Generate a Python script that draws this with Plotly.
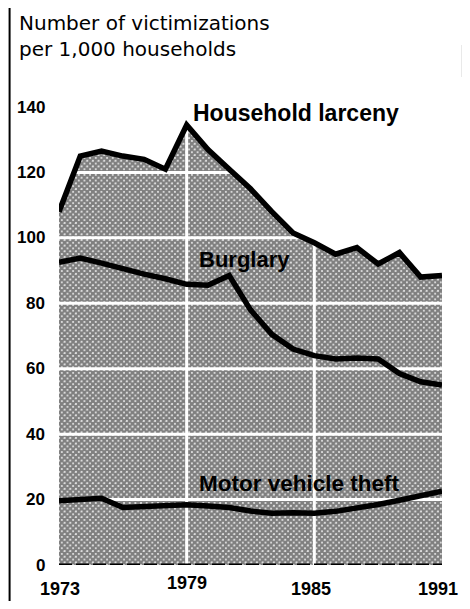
import plotly.graph_objects as go

years = list(range(1973, 1992))
household_larceny = [108, 125, 126.5, 125, 124, 121, 134.5, 127, 121, 115, 108, 101.5, 98.5, 95, 97, 92, 95.5, 88, 88.5]
burglary = [92.5, 93.8, 92.3, 90.4, 88.9, 87.5, 85.8, 85.5, 88.5, 78, 70.5, 66, 64, 63, 63.3, 63, 58.5, 56, 55]
motor_vehicle_theft = [19.6, 19.8, 20.4, 17.6, 18, 18.4, 18.4, 18, 17.6, 16.5, 15.8, 16, 15.8, 16.4, 17.3, 18.5, 19.8, 21.2, 22.6]

y_ticks = [0, 20, 40, 60, 80, 100, 120, 140]
x_ticks = [1973, 1979, 1985, 1991]
h_grid = [20, 40, 60, 80, 100, 120]
v_grid = [1979, 1985]

FONT = "Liberation Sans, Arial, sans-serif"

fig = go.Figure()

# shaded halftone area under household larceny
fig.add_trace(go.Scatter(
    x=years, y=household_larceny, mode="lines", line=dict(width=0, color="black"),
    fill="tozeroy", fillcolor="#5a5a5a",
    fillpattern=dict(shape="x", fgcolor="#000000", bgcolor="#ffffff", size=4, solidity=0.85),
    hoverinfo="skip", showlegend=False))

# white gridlines drawn over the fill but under the data lines
for v in h_grid:
    fig.add_trace(go.Scatter(x=[years[0], years[-1]], y=[v, v], mode="lines",
                             line=dict(color="white", width=3), hoverinfo="skip", showlegend=False))
for v in v_grid:
    fig.add_trace(go.Scatter(x=[v, v], y=[0, 140], mode="lines",
                             line=dict(color="white", width=3), hoverinfo="skip", showlegend=False))

# dashed baseline
fig.add_trace(go.Scatter(x=[years[0], years[-1]], y=[0, 0], mode="lines",
                         line=dict(color="black", width=3, dash="13px,4px"),
                         hoverinfo="skip", showlegend=False))

for series in (household_larceny, burglary, motor_vehicle_theft):
    fig.add_trace(go.Scatter(x=years, y=series, mode="lines",
                             line=dict(color="black", width=5.5, shape="linear"),
                             hoverinfo="skip", showlegend=False))

annotations = [
    dict(text="Household larceny", x=1979.2, y=138.2, size=23),
    dict(text="Burglary", x=1979.5, y=93.5, size=22),
    dict(text="Motor vehicle theft", x=1979.5, y=24.8, size=22.5),
]
for a in annotations:
    fig.add_annotation(text="<b>%s</b>" % a["text"], x=a["x"], y=a["y"], xref="x", yref="y",
                       xanchor="left", yanchor="middle", showarrow=False,
                       font=dict(family=FONT, size=a["size"], color="black"))

# year labels (placed individually like the original)
year_shift = {1973: (1, -24), 1979: (0, -18), 1985: (-3, -24), 1991: (-4, -24)}
for yr in x_ticks:
    dx, dy = year_shift[yr]
    fig.add_annotation(text="<b>%d</b>" % yr, x=yr, y=0, xref="x", yref="paper",
                       xanchor="center", yanchor="middle", xshift=dx, yshift=dy,
                       showarrow=False, font=dict(family=FONT, size=18, color="black"))

# value labels on the left
for v in y_ticks:
    fig.add_annotation(text="<b>%d</b>" % v, x=0, y=v, xref="paper", yref="y",
                       xanchor="right", yanchor="middle", xshift=-12,
                       showarrow=False, font=dict(family=FONT, size=17, color="black"))

fig.add_annotation(text="Number of victimizations<br>per 1,000 households",
                   xref="paper", yref="paper", x=-0.110, y=1.0, yshift=98,
                   xanchor="left", yanchor="top", align="left", showarrow=False,
                   font=dict(family="DejaVu Sans, sans-serif", size=20, color="black"))

# frame lines on left and right
fig.add_shape(type="line", xref="paper", yref="paper", x0=-0.129, x1=-0.129, y0=-0.2, y1=1.4,
              line=dict(color="black", width=2))
fig.add_shape(type="line", xref="paper", yref="paper", x0=1.057, x1=1.057, y0=-0.2, y1=1.4,
              line=dict(color="black", width=2))
# ink blot on the right frame edge
fig.add_shape(type="rect", xref="paper", yref="paper", x0=1.052, x1=1.08, y0=1.0 + 30 / 458,
              y1=1.0 + 62 / 458, line=dict(width=0), fillcolor="black")

fig.update_layout(
    width=462, height=593,
    margin=dict(l=51, r=28, t=99, b=36),
    paper_bgcolor="white", plot_bgcolor="white",
    font=dict(family=FONT, color="black"),
    xaxis=dict(range=[1973, 1991], showticklabels=False,
               showgrid=False, zeroline=False, showline=False, ticks=""),
    yaxis=dict(range=[0, 140], showticklabels=False,
               showgrid=False, zeroline=False, showline=False, ticks=""),
)

fig.write_html("out.html")
